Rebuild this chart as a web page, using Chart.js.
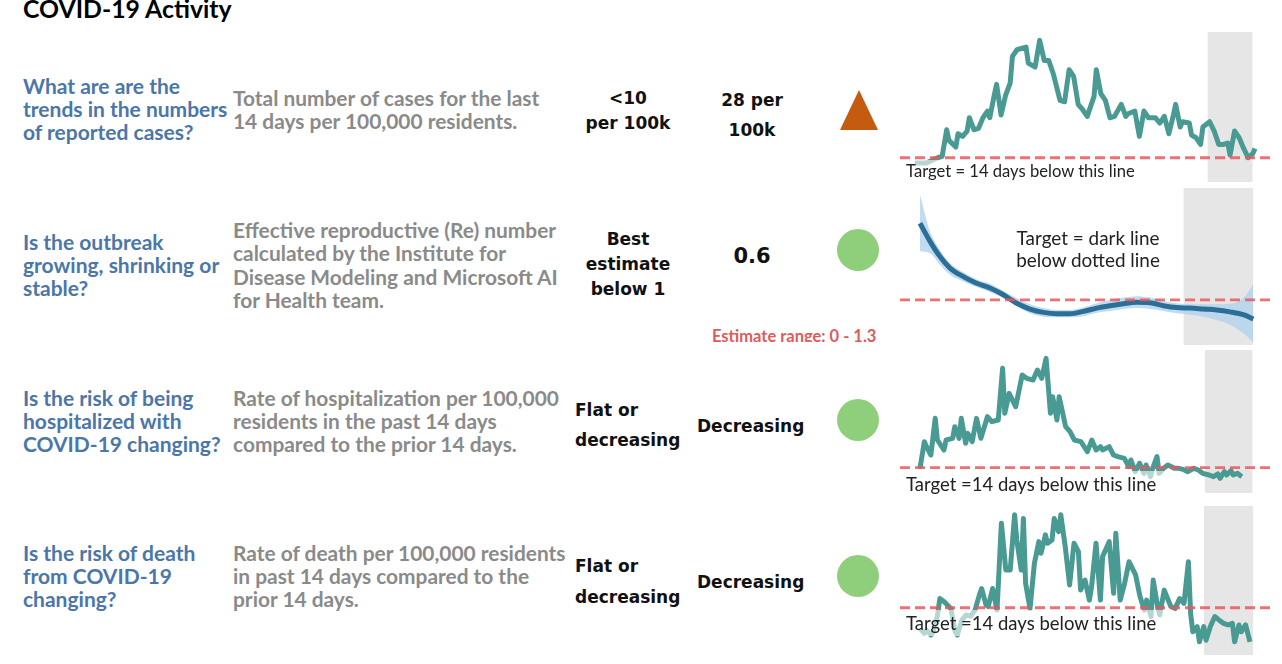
<!DOCTYPE html>
<html>
<head>
<meta charset="utf-8">
<title>COVID-19 Activity</title>
<script src="https://cdn.jsdelivr.net/npm/chart.js@4.4.1/dist/chart.umd.min.js"></script>
<style>
body { margin: 0; width: 1282px; height: 664px; overflow: hidden; background: #fff; position: relative; }
.t { position: absolute; white-space: nowrap; }
.q { font-family: Lato; font-weight: bold; font-size: 21px; line-height: 23px; color: #4a76aa; left: 23px; }
.d { font-family: Lato; font-weight: bold; font-size: 20.9px; line-height: 23px; color: #8a8a8a; left: 233px; }
.m { font-family: "DejaVu Sans"; font-weight: bold; font-size: 17px; color: #111; }
.c { text-align: center; width: 140px; }
.lbl { font-family: Lato; font-size: 16px; color: #222; }
.box { background: rgba(255,255,255,0.6); padding-left: 3px; }
canvas { position: absolute; }
</style>
</head>
<body>

<div class="t" style="left:23px;top:-6px;font-family:Lato;font-weight:bold;font-size:24.8px;line-height:30px;color:#000">COVID-19 Activity</div>

<div class="t q" style="top:74px">What are are the<br>trends in the numbers<br>of reported cases?</div>
<div class="t d" style="top:86px">Total number of cases for the last<br>14 days per 100,000 residents.</div>
<div class="t q" style="top:230px">Is the outbreak<br>growing, shrinking or<br>stable?</div>
<div class="t d" style="top:218px;line-height:23.3px">Effective reproductive (Re) number<br>calculated by the Institute for<br>Disease Modeling and Microsoft AI<br>for Health team.</div>
<div class="t q" style="top:386px">Is the risk of being<br>hospitalized with<br>COVID-19 changing?</div>
<div class="t d" style="top:386px">Rate of hospitalization per 100,000<br>residents in the past 14 days<br>compared to the prior 14 days.</div>
<div class="t q" style="top:541px">Is the risk of death<br>from COVID-19<br>changing?</div>
<div class="t d" style="top:541px">Rate of death per 100,000 residents<br>in past 14 days compared to the<br>prior 14 days.</div>

<div class="t m c" style="left:558px;top:86px;line-height:25px">&lt;10<br>per 100k</div>
<div class="t m c" style="left:682px;top:85px;line-height:30px">28 per<br>100k</div>
<div class="t m c" style="left:558px;top:227px;line-height:25px">Best<br>estimate<br>below 1</div>
<div class="t m c" style="left:682px;top:241px;line-height:30px;font-size:21px">0.6</div>
<div class="t m" style="left:575px;top:395px;line-height:30px">Flat or<br>decreasing</div>
<div class="t m" style="left:697px;top:411px;line-height:30px">Decreasing</div>
<div class="t m" style="left:575px;top:551px;line-height:31px">Flat or<br>decreasing</div>
<div class="t m" style="left:697px;top:567px;line-height:30px">Decreasing</div>

<div class="t" style="left:712px;top:326px;height:16px;overflow:hidden;font-family:Lato;font-weight:bold;font-size:16.5px;line-height:20px;color:#e05a5a">Estimate range: 0 - 1.3</div>

<div class="t" style="left:840px;top:90px;width:0;height:0;border-left:19px solid transparent;border-right:19px solid transparent;border-bottom:40px solid #c55a11"></div>
<div class="t" style="left:837px;top:229px;width:42px;height:42px;border-radius:50%;background:#8fcf7b"></div>
<div class="t" style="left:837px;top:399px;width:42px;height:42px;border-radius:50%;background:#8fcf7b"></div>
<div class="t" style="left:837px;top:555px;width:42px;height:42px;border-radius:50%;background:#8fcf7b"></div>

<canvas id="cases" width="372" height="150" style="left:900px;top:32px"></canvas>
<canvas id="re" width="372" height="157" style="left:900px;top:188px"></canvas>
<canvas id="hosp" width="372" height="143" style="left:900px;top:350px"></canvas>
<canvas id="death" width="372" height="149" style="left:900px;top:506px"></canvas>

<div class="t lbl box" style="left:903px;top:160px;width:240px;height:22px;line-height:22px;font-size:16.6px">Target = 14 days below this line</div>
<div class="t lbl" style="left:1003px;top:227px;width:170px;text-align:center;line-height:22px;font-size:18.9px">Target = dark line<br>below dotted line</div>
<div class="t lbl box" style="left:903px;top:471px;width:262px;height:26px;line-height:26px;font-size:18.5px">Target =14 days below this line</div>
<div class="t lbl box" style="left:903px;top:610px;width:262px;height:26px;line-height:26px;font-size:18.5px">Target =14 days below this line</div>

<script>
// cases per 100k (14 day total), by day
var casesDays = [0,5,10,12,14,15,18,19,21,23,24,26,28,30,32,33,35,36,38,40,42,43,45,49,50,53,55,57,59,61,64,66,68,70,72,74,76,79,80,82,84,86,88,91,93,94,97,99,101,103,106,108,110,112,114,115,117,118,121,122,124,126,127,130,132,134,136,138,139,141,143,145,147,149,150];
var casesValues = [6,6,10,11,31,23,18,28,26,30,40,31,32,40,45,40,57,65,42,57,66,86,91,93,81,78,98,83,83,73,53,52,76,71,50,46,41,56,76,58,53,40,41,50,41,43,45,26,45,40,40,36,41,28,42,50,33,37,36,27,25,20,33,37,30,20,20,21,12,30,25,17,10,13,17];
var casesTarget = 10;
var casesRecent = [129, 149];

// effective reproductive number, best estimate and range
var reDays = [0,3,6,9,13,17,21,25,29,33,37,41,45,49,53,57,61,65,69,73,77,81,85,89,93,97,100];
var reBest = [2.61,2.23,1.91,1.67,1.49,1.35,1.25,1.11,0.93,0.81,0.74,0.71,0.71,0.76,0.83,0.88,0.92,0.95,0.94,0.88,0.84,0.83,0.81,0.79,0.75,0.69,0.60];
var reUpper = [3.21,2.44,2.05,1.77,1.58,1.43,1.34,1.19,1.04,0.91,0.83,0.79,0.79,0.84,0.93,1.00,1.05,1.08,1.05,0.98,0.93,0.91,0.91,0.91,0.92,1.04,1.33];
var reLower = [2.02,1.98,1.74,1.53,1.39,1.27,1.16,1.04,0.88,0.72,0.65,0.64,0.64,0.66,0.73,0.77,0.81,0.83,0.81,0.77,0.72,0.69,0.65,0.58,0.48,0.30,0.11];
var reTarget = 1;
var reRecent = [79, 100];

// hospitalization rate per 100k
var hospDays = [0,2,3,5,7,8,11,12,15,16,18,19,21,22,24,26,28,31,33,36,38,39,41,44,47,49,52,54,56,58,60,61,63,64,67,69,71,74,77,79,81,83,84,87,89,91,94,96,97,99,101,103,104,106,107,109,110,112,114,117,119,121,123,126,128,130,133,135,137,138,140,141,143,144,146,148];
var hospValues = [0.98,1.78,1.63,1.38,2.48,1.83,1.53,1.83,1.88,2.23,1.88,2.48,1.73,2.03,1.78,2.48,1.88,2.53,2.38,2.43,3.98,2.63,3.23,2.83,3.78,3.68,3.63,3.93,3.68,4.28,2.63,3.13,2.43,3.13,2.23,2.08,1.83,1.78,1.48,1.83,1.53,1.63,1.53,1.63,1.38,1.33,1.28,1.03,1.23,0.88,1.13,0.83,1.08,0.73,0.98,1.33,0.83,0.98,1.08,0.98,0.98,0.95,0.88,0.98,0.93,0.83,0.78,0.73,0.81,0.68,0.88,0.78,0.91,0.78,0.83,0.73];
var hospTarget = 1;
var hospRecent = [131, 153];

// death rate per 100k
var deathDays = [0,2,3,5,6,8,9,11,14,16,17,19,21,23,25,27,28,30,31,33,35,37,39,41,43,44,46,47,48,50,52,54,55,57,58,60,61,63,64,66,68,70,72,73,75,77,78,80,82,83,86,88,89,91,93,95,98,100,102,103,105,106,108,109,111,114,116,118,120,122,123,124,126,127,129,130,132,134,136,138,140,142,143,145,146,148,150];
var deathValues = [0.48,0.36,0.44,0.32,0.40,0.82,1.23,1.15,0.98,0.40,0.32,0.69,0.82,0.79,0.94,1.32,1.48,1.07,1.03,1.48,0.94,3.11,1.94,1.94,3.32,2.69,1.94,3.23,1.61,0.98,2.11,2.65,2.36,2.82,2.61,2.69,3.23,2.90,3.32,2.53,1.57,2.61,2.40,1.44,1.69,1.19,1.53,2.61,1.19,2.28,2.65,1.36,2.86,1.19,1.61,2.15,1.82,1.28,0.94,1.19,0.78,1.69,1.03,0.82,1.44,1.03,0.98,1.23,1.11,2.15,0.86,0.40,0.53,0.15,0.53,0.19,0.53,0.78,0.69,0.61,0.57,0.61,0.15,0.57,0.40,0.57,0.15];
var deathTarget = 1;
var deathRecent = [129, 151.5];

function pts(xs, ys) {
  return xs.map(function (x, i) { return { x: x, y: ys[i] }; });
}

function spark(id, xr, yr, recent, target, sets) {
  var datasets = [{
    data: [{ x: xr[0], y: target }, { x: xr[1], y: target }],
    borderColor: 'rgba(232,88,92,0.85)',
    borderWidth: 2.8,
    borderDash: [10, 5],
    order: 0
  }].concat(sets).concat([{
    data: [{ x: recent[0], y: yr[1] }, { x: recent[1], y: yr[1] }],
    borderWidth: 0,
    backgroundColor: '#e6e6e6',
    fill: 'start',
    order: 9
  }]);
  return new Chart(document.getElementById(id), {
    type: 'line',
    data: { datasets: datasets },
    options: {
      responsive: false,
      animation: false,
      events: [],
      layout: { padding: 0 },
      elements: { point: { radius: 0 } },
      plugins: { legend: { display: false }, tooltip: { enabled: false } },
      scales: {
        x: { type: 'linear', display: false, min: xr[0], max: xr[1] },
        y: { display: false, min: yr[0], max: yr[1] }
      }
    }
  });
}

var teal = '#4a9a94';

spark('cases', [-6.6, 157.5], [-8.2, 104.3], casesRecent, casesTarget, [{
  data: pts(casesDays, casesValues), borderColor: teal, borderWidth: 5, borderJoinStyle: 'round', order: 1
}]);

spark('re', [-6, 105.6], [0.055, 3.35], reRecent, reTarget, [
  { data: pts(reDays, reBest), borderColor: '#2c6f96', borderWidth: 5, cubicInterpolationMode: 'monotone', order: 1 },
  { data: pts(reDays, reUpper), borderWidth: 0, backgroundColor: 'rgba(178,210,238,0.8)', fill: '+1', cubicInterpolationMode: 'monotone', order: 2 },
  { data: pts(reDays, reLower), borderWidth: 0, cubicInterpolationMode: 'monotone', order: 3 }
]);

spark('hosp', [-9.2, 161.9], [0.24, 4.53], hospRecent, hospTarget, [{
  data: pts(hospDays, hospValues), borderColor: teal, borderWidth: 5, borderJoinStyle: 'round', order: 1
}]);

spark('death', [-9.1, 160], [-0.18, 3.54], deathRecent, deathTarget, [{
  data: pts(deathDays, deathValues), borderColor: teal, borderWidth: 5, borderJoinStyle: 'round', order: 1
}]);
</script>
</body>
</html>
